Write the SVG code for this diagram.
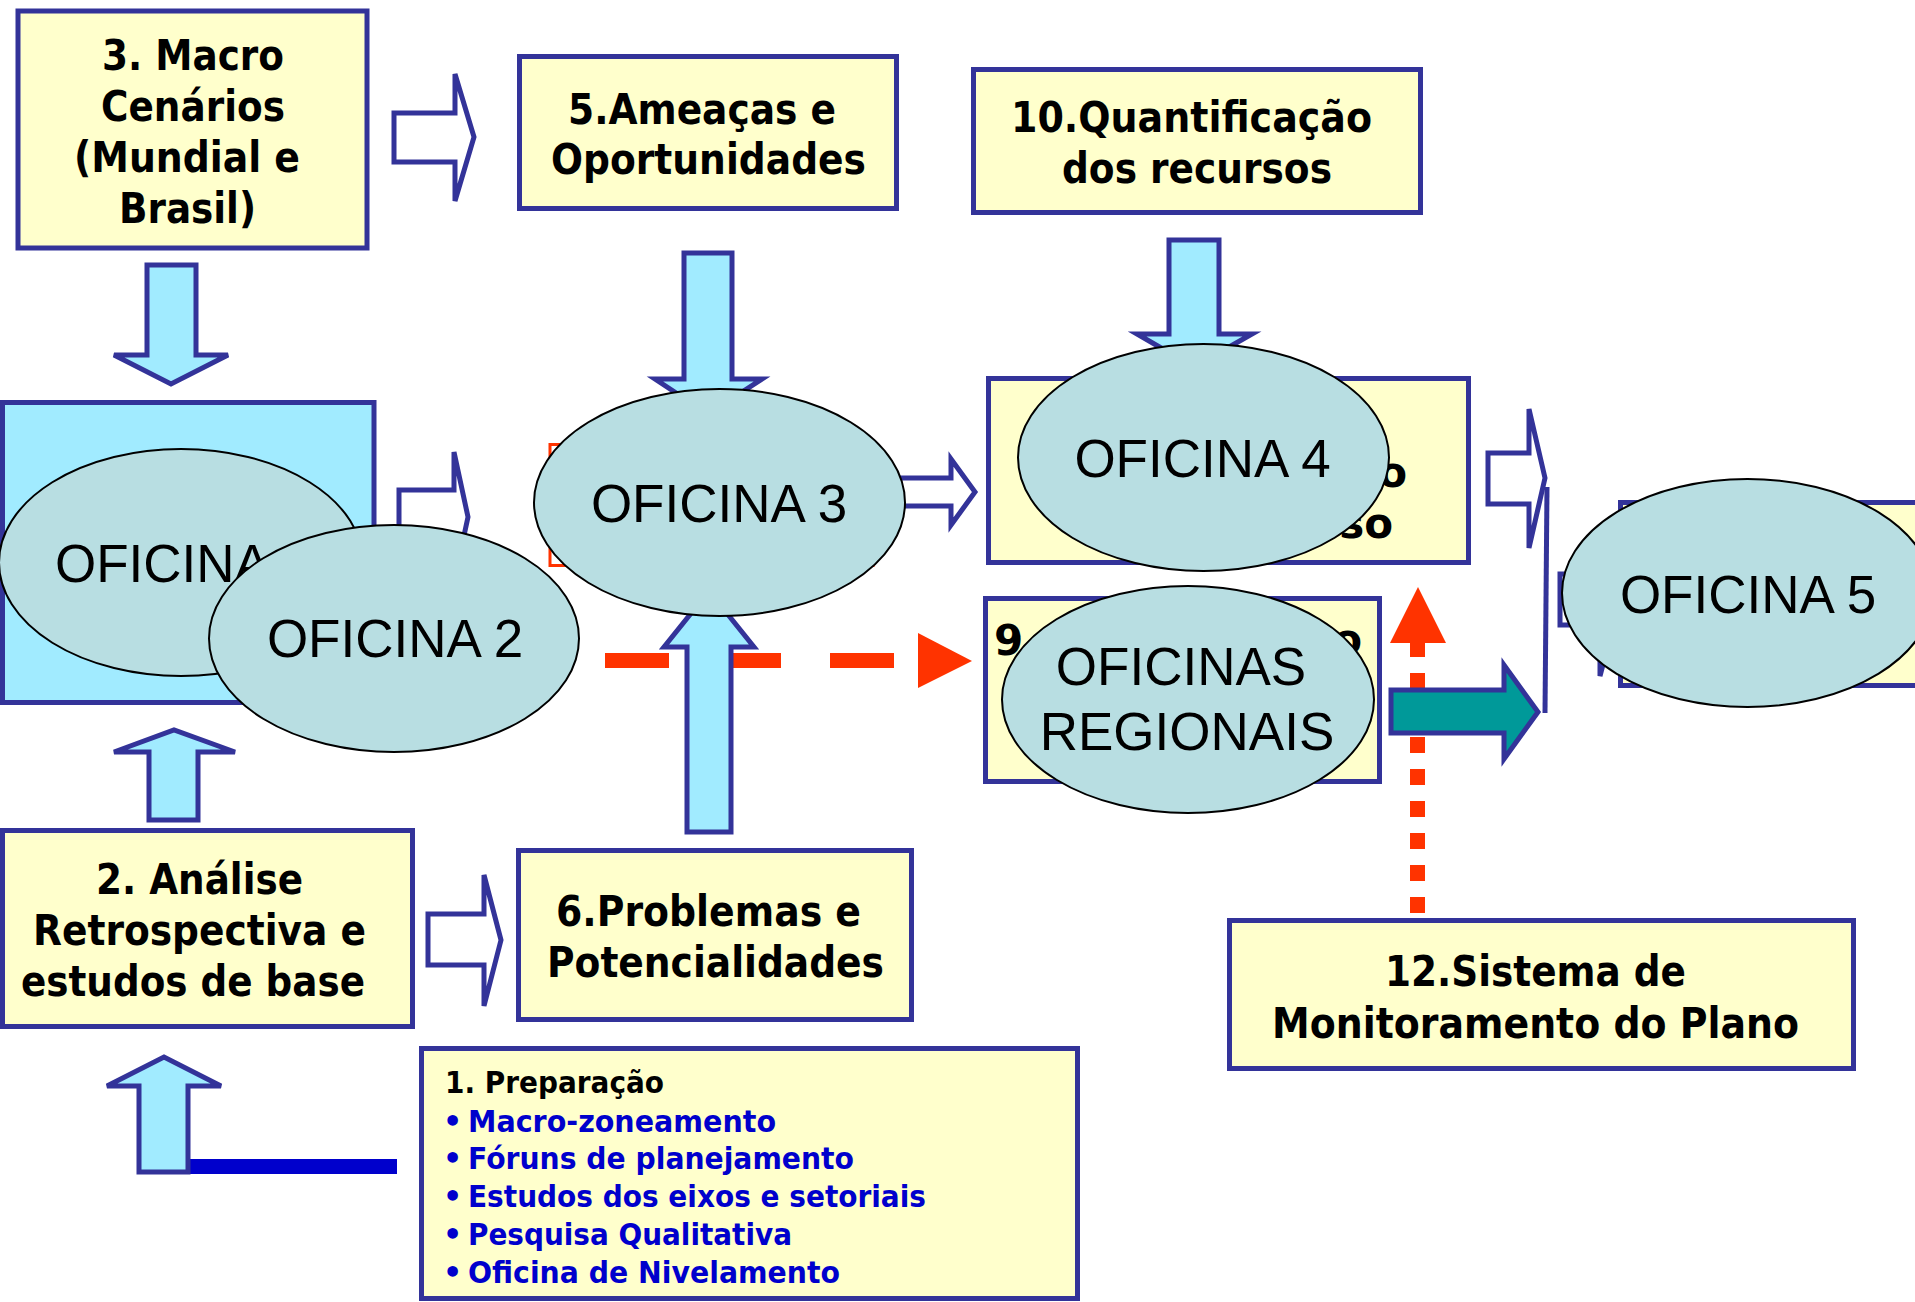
<svg xmlns="http://www.w3.org/2000/svg" width="1915" height="1302" viewBox="0 0 1915 1302">
<style>
.box{fill:#FFFFCC;stroke:#333399;stroke-width:5}
.lb{fill:#A1EBFF;stroke:#333399;stroke-width:5}
.hollow{fill:#FFFFFF;stroke:#333399;stroke-width:5}
.blk{fill:#A1EBFF;stroke:#333399;stroke-width:5}
.ell{fill:#B8DEE2;stroke:#000000;stroke-width:2}
.t{font-family:"DejaVu Sans",Verdana,sans-serif;font-weight:bold;font-size:42px;fill:#000000}
.t1{font-family:"DejaVu Sans",Verdana,sans-serif;font-weight:bold;font-size:30px;fill:#000000}
.tb{fill:#0000CC}
.o{font-family:"Liberation Sans",Arial,sans-serif;font-size:53px;fill:#000000;text-anchor:middle}
.red{fill:#FF3300}
</style>
<rect width="1915" height="1302" fill="#FFFFFF"/>

<g id="box3">
<rect class="box" x="18" y="11" width="349" height="237"/>
<text class="t" x="102" y="70" textLength="182" lengthAdjust="spacingAndGlyphs">3. Macro</text>
<text class="t" x="101" y="121" textLength="184" lengthAdjust="spacingAndGlyphs">Cenários</text>
<text class="t" x="74" y="172" textLength="226" lengthAdjust="spacingAndGlyphs">(Mundial e</text>
<text class="t" x="119" y="223" textLength="137" lengthAdjust="spacingAndGlyphs">Brasil)</text>
</g>

<g id="box5">
<rect class="box" x="519.5" y="56.5" width="377" height="152"/>
<text class="t" x="568" y="124" textLength="268" lengthAdjust="spacingAndGlyphs">5.Ameaças e</text>
<text class="t" x="551" y="174" textLength="315" lengthAdjust="spacingAndGlyphs">Oportunidades</text>
</g>

<g id="box10">
<rect class="box" x="973.5" y="69.5" width="447" height="143"/>
<text class="t" x="1011" y="132" textLength="361" lengthAdjust="spacingAndGlyphs">10.Quantificação</text>
<text class="t" x="1062" y="183" textLength="270" lengthAdjust="spacingAndGlyphs">dos recursos</text>
</g>

<g id="oficina1-area">
<rect class="lb" x="2.5" y="402.5" width="371.5" height="300"/>
</g>

<g id="box7-hidden">
<rect x="550" y="444.5" width="323" height="121" fill="#FFFFFF" stroke="#FF3300" stroke-width="3"/>
</g>

<g id="box8-hidden">
<rect class="box" x="988.5" y="378.5" width="480" height="184"/>
<text class="t" x="1407" y="487" text-anchor="end">o</text>
<text class="t" x="1393" y="538" text-anchor="end">so</text>
<text class="t" x="1063" y="538">c</text>
</g>

<g id="box9">
<rect class="box" x="985.5" y="598.5" width="394" height="183"/>
<text class="t" x="994" y="655">9.</text>
<text class="t" x="1362" y="654" text-anchor="end">o</text>
</g>

<g id="box11-hidden">
<rect class="box" x="1620.5" y="502.5" width="400" height="183"/>
</g>

<g id="box2">
<rect class="box" x="2.5" y="830.5" width="410" height="196"/>
<text class="t" x="96" y="894" textLength="207" lengthAdjust="spacingAndGlyphs">2. Análise</text>
<text class="t" x="33" y="945" textLength="333" lengthAdjust="spacingAndGlyphs">Retrospectiva e</text>
<text class="t" x="21" y="996" textLength="344" lengthAdjust="spacingAndGlyphs">estudos de base</text>
</g>

<g id="box6">
<rect class="box" x="518.5" y="850.5" width="393" height="169"/>
<text class="t" x="556" y="926" textLength="305" lengthAdjust="spacingAndGlyphs">6.Problemas e</text>
<text class="t" x="547" y="977" textLength="337" lengthAdjust="spacingAndGlyphs">Potencialidades</text>
</g>

<g id="box12">
<rect class="box" x="1229.5" y="920.5" width="624" height="148"/>
<text class="t" x="1385" y="986" textLength="301" lengthAdjust="spacingAndGlyphs">12.Sistema de</text>
<text class="t" x="1272" y="1038" textLength="527" lengthAdjust="spacingAndGlyphs">Monitoramento do Plano</text>
</g>

<g id="box1">
<rect class="box" x="421.5" y="1048.5" width="656" height="250"/>
<text class="t1" x="445" y="1093" textLength="219" lengthAdjust="spacingAndGlyphs">1. Preparação</text>
<text class="t1 tb" y="1132"><tspan x="443">•</tspan><tspan x="468" textLength="308" lengthAdjust="spacingAndGlyphs">Macro-zoneamento</tspan></text>
<text class="t1 tb" y="1169"><tspan x="443">•</tspan><tspan x="468" textLength="386" lengthAdjust="spacingAndGlyphs">Fóruns de planejamento</tspan></text>
<text class="t1 tb" y="1207"><tspan x="443">•</tspan><tspan x="468" textLength="458" lengthAdjust="spacingAndGlyphs">Estudos dos eixos e setoriais</tspan></text>
<text class="t1 tb" y="1245"><tspan x="443">•</tspan><tspan x="468" textLength="324" lengthAdjust="spacingAndGlyphs">Pesquisa Qualitativa</tspan></text>
<text class="t1 tb" y="1283"><tspan x="443">•</tspan><tspan x="468" textLength="372" lengthAdjust="spacingAndGlyphs">Oficina de Nivelamento</tspan></text>
</g>

<g id="connectors">
<polygon class="hollow" points="394,113 455,113 455,74 474,137 455,201 455,162 394,162"/>
<polygon class="hollow" points="399,490 454,490 454,452 468,517 454,582 454,544 399,544"/>
<polygon class="hollow" points="890,478 951,478 951,459 975,492 951,525 951,506 890,506"/>
<polygon class="hollow" points="1488,453 1529,453 1529,409 1545,478 1529,548 1529,504 1488,504"/>
<polygon class="hollow" points="428,914 484,914 484,875 501,940 484,1006 484,965 428,965"/>
<polygon class="hollow" points="1560,574 1600,574 1600,530 1620,600 1600,676 1600,625 1560,625"/>

<polygon class="blk" points="147,265 196,265 196,355 228,355 171,384 114,355 147,355"/>
<polygon class="blk" points="684,253 732,253 732,379 762,379 708,414 655,379 684,379"/>
<polygon class="blk" points="1169,240 1219,240 1219,334 1252,334 1194,367 1137,334 1169,334"/>
<polygon class="blk" points="149,820 198,820 198,752 235,752 174,730 114,752 149,752"/>

<rect class="red" x="605" y="653" width="64" height="15"/>
<rect class="red" x="717" y="653" width="64" height="15"/>
<rect class="red" x="830" y="653" width="64" height="15"/>
<polygon class="red" points="918,633 972,661 918,688"/>

<polygon class="blk" points="687,832 731,832 731,647 754,647 709,591 664,647 687,647"/>

<rect x="188" y="1159" width="209" height="15" fill="#0000CC"/>
<polygon class="blk" points="139,1172 188,1172 188,1086 221,1086 164,1057 107,1086 139,1086"/>

<polygon class="red" points="1418,587 1446,643 1390,643"/>
<rect class="red" x="1410" y="641" width="15" height="16"/>
<rect class="red" x="1410" y="673" width="15" height="16"/>
<rect class="red" x="1410" y="705" width="15" height="16"/>
<rect class="red" x="1410" y="737" width="15" height="16"/>
<rect class="red" x="1410" y="769" width="15" height="16"/>
<rect class="red" x="1410" y="801" width="15" height="16"/>
<rect class="red" x="1410" y="833" width="15" height="16"/>
<rect class="red" x="1410" y="865" width="15" height="16"/>
<rect class="red" x="1410" y="897" width="15" height="16"/>

<polygon points="1391,690 1504,690 1504,665 1538,712 1504,759 1504,733 1391,733" fill="#009999" stroke="#333399" stroke-width="5"/>
<line x1="1547" y1="487" x2="1545" y2="713" stroke="#333399" stroke-width="5"/>
</g>

<g id="oficina1">
<ellipse class="ell" cx="181" cy="562.5" rx="182" ry="113.5"/>
<text class="o" x="55" y="582" text-anchor="start" style="text-anchor:start">OFICINA</text>
</g>
<g id="oficina2">
<ellipse class="ell" cx="394" cy="638.5" rx="185" ry="113.5"/>
<text class="o" x="395" y="657">OFICINA 2</text>
</g>
<g id="oficina3">
<ellipse class="ell" cx="719.5" cy="502.5" rx="185.5" ry="113.5"/>
<text class="o" x="719" y="522">OFICINA 3</text>
</g>
<g id="oficina4">
<ellipse class="ell" cx="1203.5" cy="457.5" rx="185.5" ry="113.5"/>
<text class="o" x="1202.5" y="477">OFICINA 4</text>
</g>
<g id="oficinas-regionais">
<ellipse class="ell" cx="1188" cy="699.5" rx="186" ry="113.5"/>
<text class="o" x="1181" y="685">OFICINAS</text>
<text class="o" x="1187" y="750">REGIONAIS</text>
</g>
<g id="oficina5">
<ellipse class="ell" cx="1747.5" cy="593" rx="185.5" ry="114"/>
<text class="o" x="1748" y="613">OFICINA 5</text>
</g>
</svg>
